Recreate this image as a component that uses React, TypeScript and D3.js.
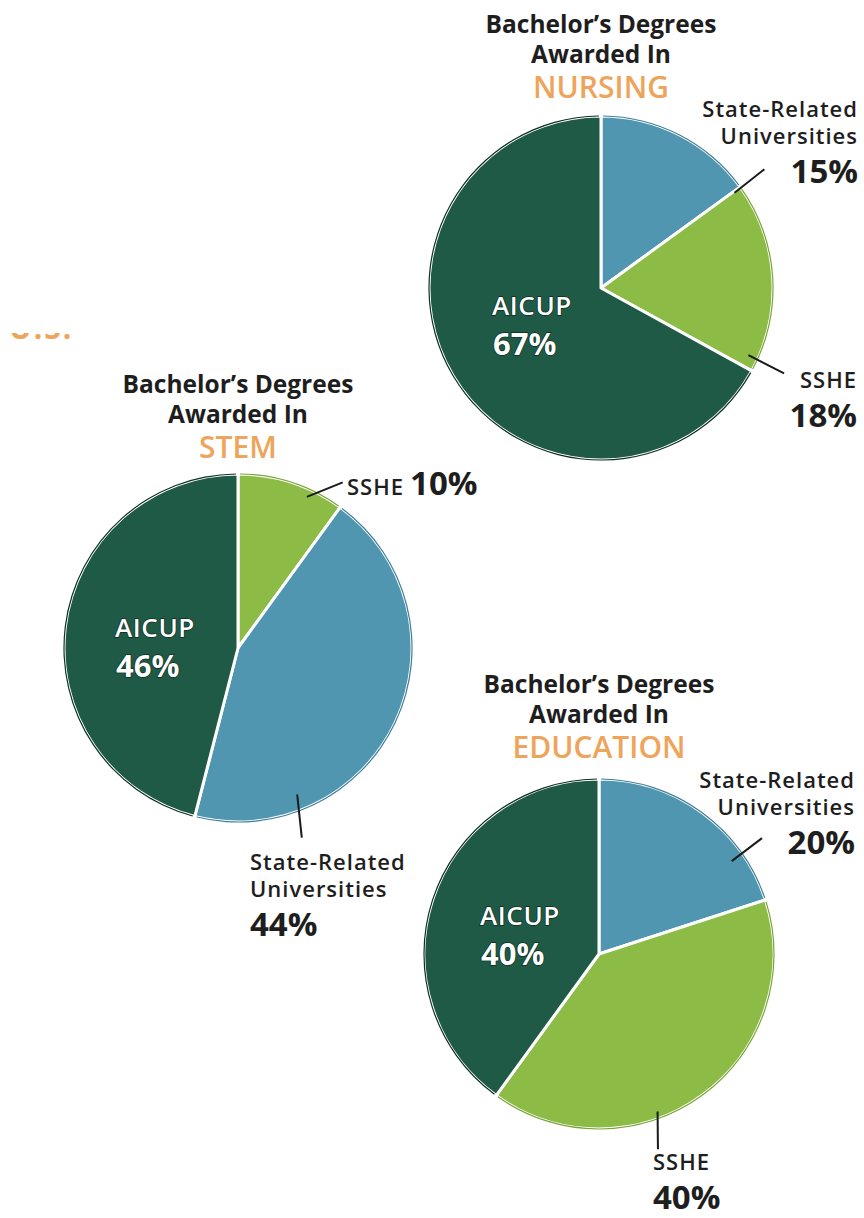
import React from "react";
import * as d3 from "d3";

// ---- data ----
const subjects = ["NURSING", "STEM", "EDUCATION"];
const nursingSectors = ["State-Related Universities", "SSHE", "AICUP"];
const nursingValues = [15, 18, 67];
const stemSectors = ["SSHE", "State-Related Universities", "AICUP"];
const stemValues = [10, 44, 46];
const educationSectors = ["State-Related Universities", "SSHE", "AICUP"];
const educationValues = [20, 40, 40];
const titleLines = ["Bachelor\u2019s Degrees", "Awarded In"];

const sectorColor: Record<string, string> = {
  AICUP: "#1f5a46",
  "State-Related Universities": "#5096b0",
  SSHE: "#8cbb46",
};
const sectorStroke: Record<string, string> = {
  AICUP: "#0f2e24",
  "State-Related Universities": "#3f7f96",
  SSHE: "#7aa53a",
};

const FONT = "'Open Sans', 'Noto Sans', sans-serif";
const DARK = "#1e1e1e";
const ORANGE = "#eea45a";

type LabelSpec = {
  sector: string;
  lines: string[];
  x: number;
  y: number;
  anchor: "start" | "middle" | "end";
  inside?: boolean;
  inline?: boolean;
  leader?: [number, number, number, number]; // angle0, r0, angle1, r1 (deg, px)
};

type PieSpec = {
  subject: string;
  sectors: string[];
  values: number[];
  cx: number;
  cy: number;
  r: number;
  titleY: number;
  labels: LabelSpec[];
};

const pies: PieSpec[] = [
  {
    subject: subjects[0],
    sectors: nursingSectors,
    values: nursingValues,
    cx: 601,
    cy: 288,
    r: 172,
    titleY: 33,
    labels: [
      { sector: "State-Related Universities", lines: ["State-Related", "Universities"], x: 858, y: 117, anchor: "end", leader: [54.5, 164, 54, 202] },
      { sector: "SSHE", lines: ["SSHE"], x: 857, y: 388, anchor: "end", leader: [114.5, 162, 115, 202] },
      { sector: "AICUP", lines: ["AICUP"], x: 492, y: 315, anchor: "start", inside: true },
    ],
  },
  {
    subject: subjects[1],
    sectors: stemSectors,
    values: stemValues,
    cx: 238,
    cy: 648,
    r: 174,
    titleY: 393,
    labels: [
      { sector: "SSHE", lines: ["SSHE"], x: 347, y: 495, anchor: "start", inline: true, leader: [24.5, 166, 32.3, 196] },
      { sector: "State-Related Universities", lines: ["State-Related", "Universities"], x: 250, y: 870, anchor: "start", leader: [158, 158, 161.4, 200] },
      { sector: "AICUP", lines: ["AICUP"], x: 115, y: 637, anchor: "start", inside: true },
    ],
  },
  {
    subject: subjects[2],
    sectors: educationSectors,
    values: educationValues,
    cx: 599,
    cy: 954,
    r: 175,
    titleY: 693,
    labels: [
      { sector: "State-Related Universities", lines: ["State-Related", "Universities"], x: 855, y: 788, anchor: "end", leader: [55, 162, 54.6, 200] },
      { sector: "SSHE", lines: ["SSHE"], x: 653, y: 1170, anchor: "start", leader: [159.6, 168, 163.2, 204] },
      { sector: "AICUP", lines: ["AICUP"], x: 480, y: 925, anchor: "start", inside: true },
    ],
  },
];

function polar(cx: number, cy: number, deg: number, r: number): [number, number] {
  const a = (deg * Math.PI) / 180;
  return [cx + r * Math.sin(a), cy - r * Math.cos(a)];
}

function Pie({ spec }: { spec: PieSpec }) {
  const data = spec.sectors.map((s, i) => ({ sector: s, value: spec.values[i] }));
  const pieGen = d3
    .pie<{ sector: string; value: number }>()
    .sort(null)
    .value((d) => d.value);
  const arcs = pieGen(data);
  const arcGen = d3.arc<d3.PieArcDatum<{ sector: string; value: number }>>().innerRadius(0).outerRadius(spec.r);
  const outline = d3.arc<d3.PieArcDatum<{ sector: string; value: number }>>().innerRadius(spec.r - 0.6).outerRadius(spec.r + 0.6);

  const valueOf = (sector: string) => spec.values[spec.sectors.indexOf(sector)];

  return (
    <g>
      {/* title */}
      <text x={spec.cx} y={spec.titleY} textAnchor="middle" fontFamily={FONT} fontWeight={700} fontSize={24.5} fill={DARK}>
        {titleLines[0]}
      </text>
      <text x={spec.cx} y={spec.titleY + 30} textAnchor="middle" fontFamily={FONT} fontWeight={700} fontSize={24.5} fill={DARK}>
        {titleLines[1]}
      </text>
      <text x={spec.cx} y={spec.titleY + 65} textAnchor="middle" fontFamily={FONT} fontWeight={600} fontSize={30} fill={ORANGE}>
        {spec.subject}
      </text>

      <g transform={`translate(${spec.cx},${spec.cy})`}>
        {arcs.map((a) => (
          <path key={a.data.sector} d={arcGen(a) || ""} fill={sectorColor[a.data.sector]} stroke="#ffffff" strokeWidth={3} strokeLinejoin="round" />
        ))}
        {arcs.map((a) => (
          <path key={"o" + a.data.sector} d={outline({ ...a, startAngle: a.startAngle + 0.012, endAngle: a.endAngle - 0.012 }) || ""} fill={sectorStroke[a.data.sector]} />
        ))}
      </g>

      {spec.labels.map((l) => {
        const v = valueOf(l.sector);
        if (l.inside) {
          return (
            <g key={l.sector}>
              <text x={l.x} y={l.y} fontFamily={FONT} fontWeight={600} fontSize={26} letterSpacing={0.6} fill="#ffffff" stroke="#0c2a20" strokeWidth={1.4} paintOrder="stroke">
                {l.lines[0]}
              </text>
              <text x={l.x + 1} y={l.y + 40} fontFamily={FONT} fontWeight={700} fontSize={31} fill="#ffffff" stroke="#0c2a20" strokeWidth={1.4} paintOrder="stroke">
                {v}%
              </text>
            </g>
          );
        }
        const lead = l.leader ? [polar(spec.cx, spec.cy, l.leader[0], l.leader[1]), polar(spec.cx, spec.cy, l.leader[2], l.leader[3])] : null;
        return (
          <g key={l.sector}>
            {lead && <line x1={lead[0][0]} y1={lead[0][1]} x2={lead[1][0]} y2={lead[1][1]} stroke="#1a1a1a" strokeWidth={2} />}
            {l.inline ? (
              <text x={l.x} y={l.y} fontFamily={FONT} fill={DARK}>
                <tspan fontWeight={600} fontSize={22} letterSpacing={1}>{l.lines[0]}</tspan>
                <tspan dx={6} fontWeight={700} fontSize={33}>{v}%</tspan>
              </text>
            ) : (
              <g>
                {l.lines.map((t, i) => (
                  <text key={t} x={l.x} y={l.y + i * 27} textAnchor={l.anchor} fontFamily={FONT} fontWeight={600} fontSize={22} letterSpacing={1} fill={DARK}>
                    {t}
                  </text>
                ))}
                <text x={l.x} y={l.y + (l.lines.length - 1) * 27 + 39} textAnchor={l.anchor} fontFamily={FONT} fontWeight={700} fontSize={33} fill={DARK}>
                  {v}%
                </text>
              </g>
            )}
          </g>
        );
      })}
    </g>
  );
}

export default function App() {
  return (
    <svg width={864} height={1218} style={{ position: "absolute", left: 0, top: 0, background: "#ffffff" }}>
      <rect x={0} y={0} width={864} height={1218} fill="#ffffff" />
      <defs>
        <clipPath id="clipUS">
          <rect x={0} y={333} width={120} height={20} />
        </clipPath>
      </defs>
      <text x={9} y={339} clipPath="url(#clipUS)" fontFamily={FONT} fontWeight={700} fontSize={30} fill={ORANGE} letterSpacing={2}>
        U.S.
      </text>
      {pies.map((p) => (
        <Pie key={p.subject} spec={p} />
      ))}
    </svg>
  );
}
